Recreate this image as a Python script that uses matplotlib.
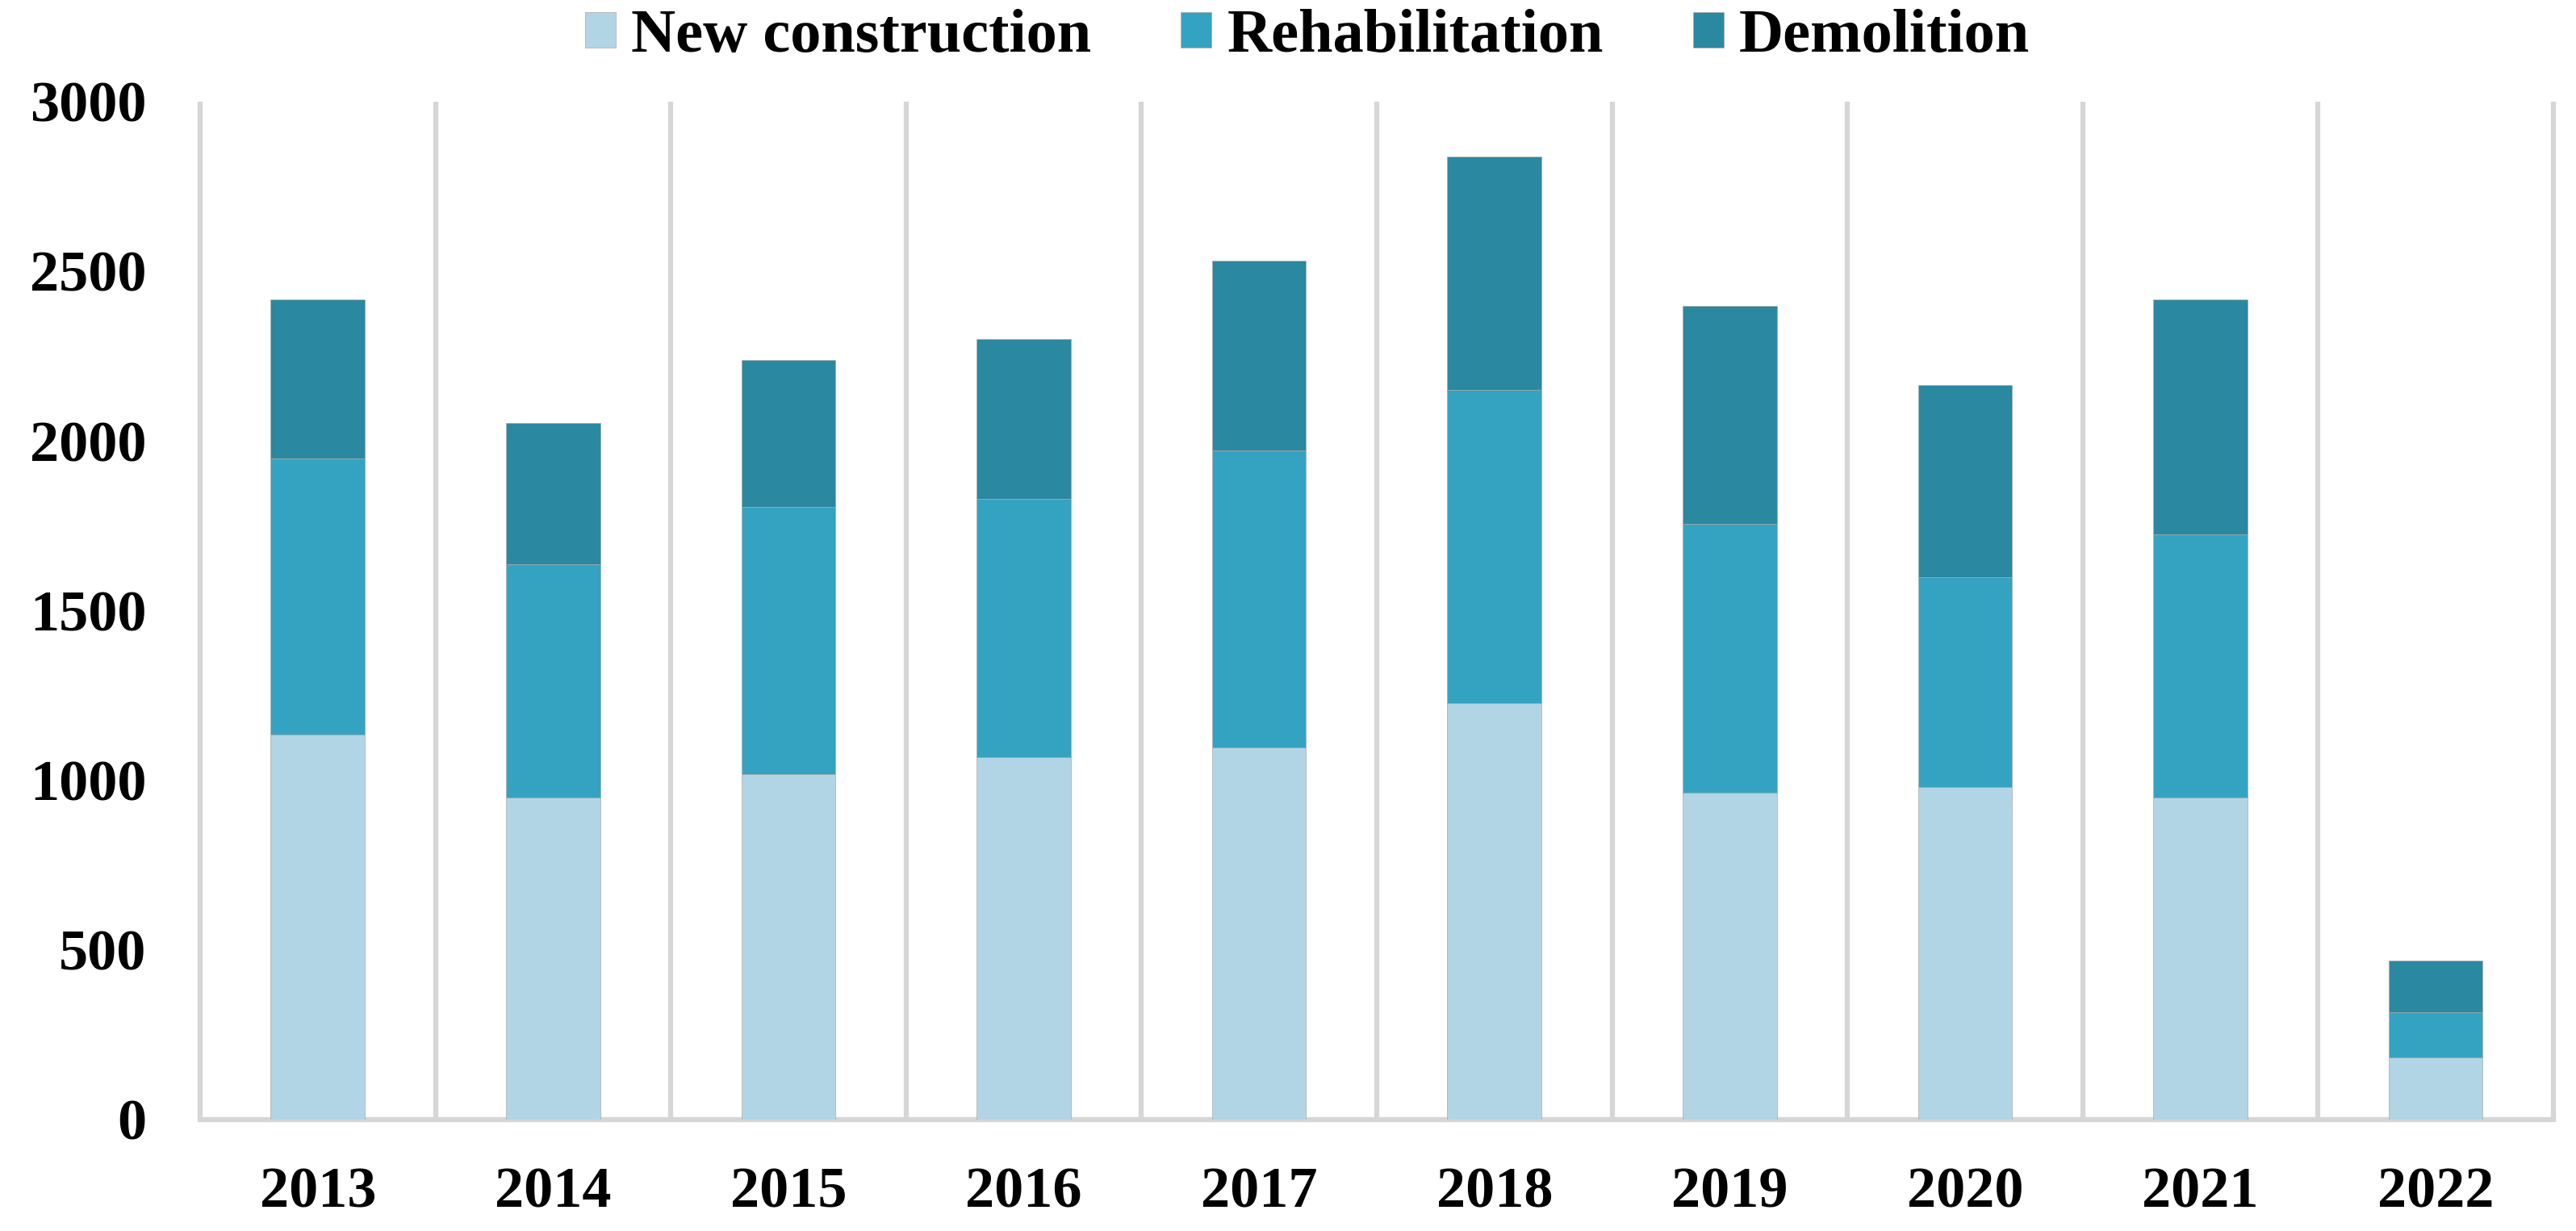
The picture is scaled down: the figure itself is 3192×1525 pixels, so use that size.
import numpy as np
import matplotlib
matplotlib.use('Agg')
import matplotlib.pyplot as plt

# 字体: 粗体衬线
plt.rcParams['font.family'] = ['Liberation Serif', 'DejaVu Serif']
plt.rcParams['font.weight'] = 'bold'

# ==========================================
# 数据
# ==========================================
years = ['2013', '2014', '2015', '2016', '2017', '2018', '2019', '2020', '2021', '2022']
new_construction = [1135, 950, 1017, 1068, 1097, 1226, 964, 979, 950, 182]
rehabilitation = [813, 686, 789, 761, 874, 924, 791, 618, 774, 135]
demolition = [469, 417, 433, 471, 559, 686, 642, 567, 693, 151]

series_names = ['New construction', 'Rehabilitation', 'Demolition']
colors = ['#b2d5e5', '#34a3c2', '#2a88a0']
grid_color = '#d6d6d6'

# ==========================================
# 绘图
# ==========================================
fig = plt.figure(figsize=(31.92, 15.25), dpi=100)
ax = fig.add_axes([0.0777, 0.0905, 0.9135, 0.8272])

x = np.arange(len(years))
bar_w = 0.40

bottom = np.zeros(len(years))
for name, vals, col in zip(series_names, [new_construction, rehabilitation, demolition], colors):
    ax.bar(x, vals, bar_w, bottom=bottom, color=col, label=name,
           edgecolor='#a9a9a9', linewidth=0.5, zorder=3)
    bottom += np.array(vals)

# 类别分隔线 (包括左右边框)
ax.vlines(np.arange(-0.5, len(years), 1), 0, 3000, colors=grid_color,
          linewidth=4.5, zorder=1, clip_on=False)

ax.set_xlim(-0.5, len(years) - 0.5)
ax.set_ylim(0, 3000)
ax.set_yticks(np.arange(0, 3001, 500))
ax.set_xticks(x)
ax.set_xticklabels(years)

for side in ['top', 'right', 'left']:
    ax.spines[side].set_visible(False)
ax.spines['bottom'].set_color(grid_color)
ax.spines['bottom'].set_linewidth(4.5)
ax.spines['bottom'].set_capstyle('projecting')

ax.tick_params(axis='y', length=0, pad=48, labelsize=52)
ax.tick_params(axis='x', length=0, pad=42, labelsize=52)
for lbl in ax.get_xticklabels() + ax.get_yticklabels():
    lbl.set_fontweight('bold')

# 图例 (顶部)
fig.legend(loc='center', bbox_to_anchor=(0.5075, 0.970), ncol=3, frameon=False,
           prop={'size': 55, 'weight': 'bold'}, handlelength=0.5, handleheight=0.5,
           handletextpad=0.25, columnspacing=1.45, borderpad=0, borderaxespad=0)

fig.savefig('out.png', dpi=100, facecolor='white')
